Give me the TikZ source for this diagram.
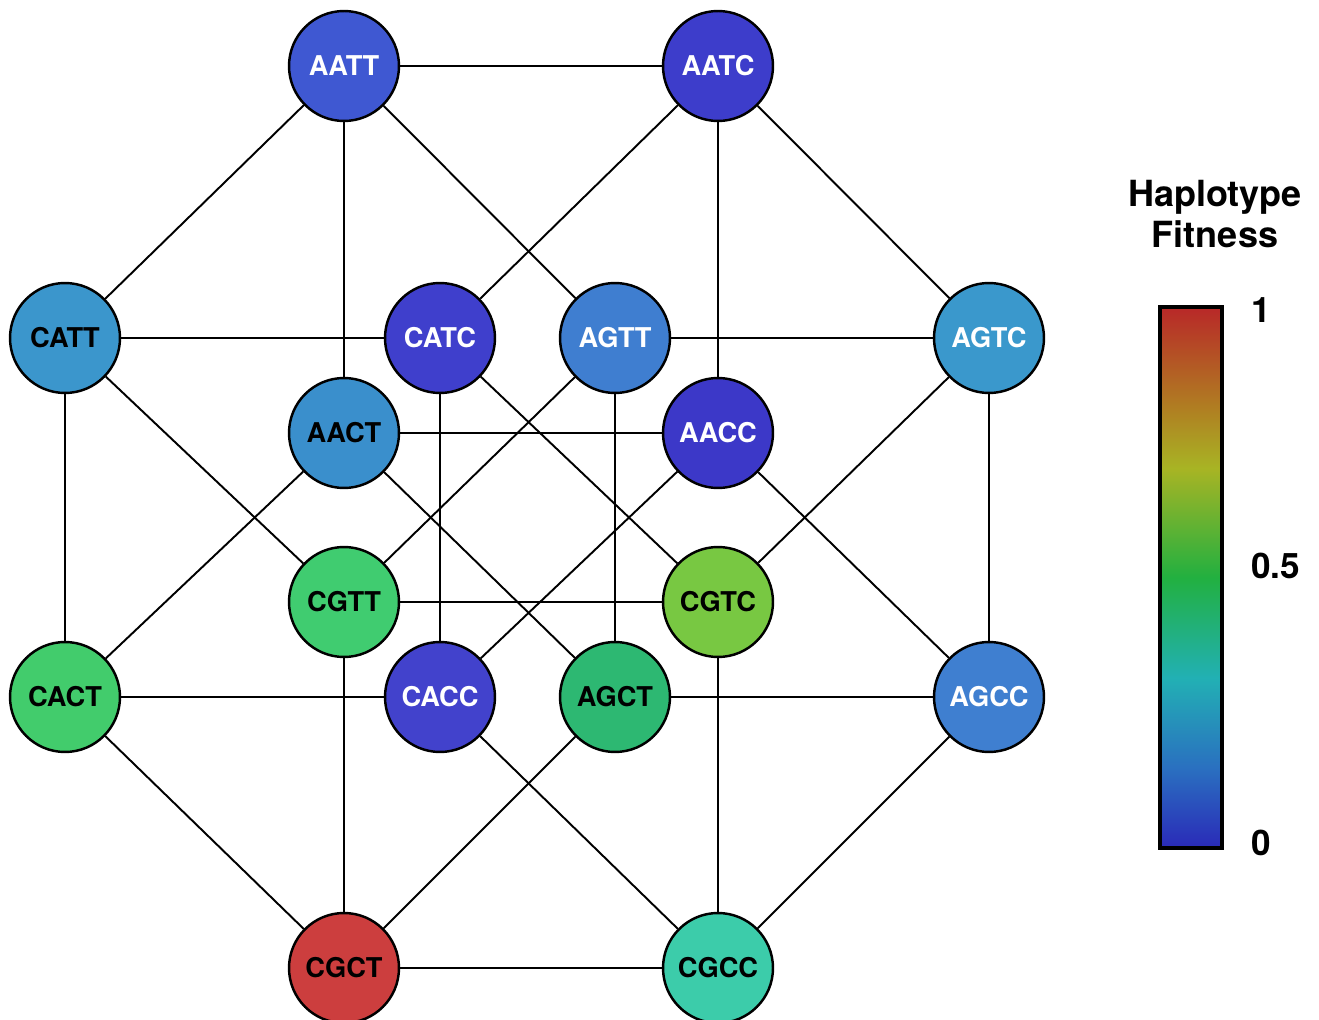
\documentclass[tikz,border=0pt]{standalone}
\usepackage{fontspec}
\setmainfont{TeX Gyre Heros}
\begin{document}
\definecolor{cb0}{HTML}{2A2AB8}
\definecolor{cb1}{HTML}{2A70C0}
\definecolor{cb2}{HTML}{22B0B4}
\definecolor{cb3}{HTML}{22B040}
\definecolor{cb4}{HTML}{A8B424}
\definecolor{cb5}{HTML}{B07E22}
\definecolor{cb6}{HTML}{B82828}
\pgfdeclareverticalshading{fitbar}{100bp}{
  color(0bp)=(cb0); color(25bp)=(cb0); color(32.4bp)=(cb1); color(40.7bp)=(cb2);
  color(50bp)=(cb3); color(60.1bp)=(cb4); color(65.7bp)=(cb5); color(75bp)=(cb6);
  color(100bp)=(cb6)}
\definecolor{cAATT}{HTML}{3F58D2}
\definecolor{cAATC}{HTML}{3D3DCB}
\definecolor{cCATT}{HTML}{3B96CC}
\definecolor{cCATC}{HTML}{3F3FCC}
\definecolor{cAGTT}{HTML}{3F7ED0}
\definecolor{cAGTC}{HTML}{3A98CC}
\definecolor{cAACT}{HTML}{3A8FCC}
\definecolor{cAACC}{HTML}{3C38C8}
\definecolor{cCGTT}{HTML}{40CC70}
\definecolor{cCGTC}{HTML}{78C842}
\definecolor{cCACT}{HTML}{42CC6C}
\definecolor{cCACC}{HTML}{4242CC}
\definecolor{cAGCT}{HTML}{2DB872}
\definecolor{cAGCC}{HTML}{3F7FD0}
\definecolor{cCGCT}{HTML}{CC3E3E}
\definecolor{cCGCC}{HTML}{3CCCAA}
\begin{tikzpicture}[x=0.02cm,y=-0.02cm,
  hap/.style={circle,draw=black,line width=1.4pt,minimum size=2.2cm,inner sep=0pt,
    font=\fontsize{15.5}{18}\selectfont\bfseries},
  wt/.style={hap,text=white},
  bk/.style={hap,text=black},
  link/.style={draw=black,line width=1.1pt},
  lab/.style={font=\fontsize{20}{24}\selectfont\bfseries,inner sep=0pt}]
\useasboundingbox (0,0) rectangle (1319,1020);
% nodes
\node[wt,fill=cAATT] (AATT) at (344,66) {AATT};
\node[wt,fill=cAATC] (AATC) at (718,66) {AATC};
\node[bk,fill=cCATT] (CATT) at (65,338) {CATT};
\node[wt,fill=cCATC] (CATC) at (440,338) {CATC};
\node[wt,fill=cAGTT] (AGTT) at (615,338) {AGTT};
\node[wt,fill=cAGTC] (AGTC) at (989,338) {AGTC};
\node[bk,fill=cAACT] (AACT) at (344,433) {AACT};
\node[wt,fill=cAACC] (AACC) at (718,433) {AACC};
\node[bk,fill=cCGTT] (CGTT) at (344,602) {CGTT};
\node[bk,fill=cCGTC] (CGTC) at (718,602) {CGTC};
\node[bk,fill=cCACT] (CACT) at (65,697) {CACT};
\node[wt,fill=cCACC] (CACC) at (440,697) {CACC};
\node[bk,fill=cAGCT] (AGCT) at (615,697) {AGCT};
\node[wt,fill=cAGCC] (AGCC) at (989,697) {AGCC};
\node[bk,fill=cCGCT] (CGCT) at (344,968) {CGCT};
\node[bk,fill=cCGCC] (CGCC) at (718,968) {CGCC};
% edges
\foreach \a/\b in {AATT/AATC,AATT/CATT,AATT/AACT,AATT/AGTT,
  AATC/CATC,AATC/AACC,AATC/AGTC,
  CATT/CATC,CATT/CACT,CATT/CGTT,
  CATC/CACC,CATC/CGTC,
  AGTT/AGTC,AGTT/CGTT,AGTT/AGCT,
  AGTC/CGTC,AGTC/AGCC,
  AACT/AACC,AACT/CACT,AACT/AGCT,
  AACC/CACC,AACC/AGCC,
  CGTT/CGTC,CGTT/CGCT,CGTC/CGCC,
  CACT/CACC,CACT/CGCT,CACC/CGCC,
  AGCT/AGCC,AGCT/CGCT,AGCC/CGCC,CGCT/CGCC}
  \path[link] (\a) -- (\b);
% colour bar
\node[font=\fontsize{20.5}{23}\selectfont\bfseries,align=center,inner sep=0pt] (title) at (1215,214) {Haplotype\\Fitness};
\node[draw=black,line width=2.4pt,minimum width=1.24cm,minimum height=10.82cm,inner sep=0pt,
  shading=fitbar] (bar) at (1191,577.5) {};
\node[lab,anchor=west] (l1) at (1251,310) {1};
\node[lab,anchor=west] (l05) at (1251,566) {0.5};
\node[lab,anchor=west] (l0) at (1251,843) {0};
\end{tikzpicture}
\end{document}
